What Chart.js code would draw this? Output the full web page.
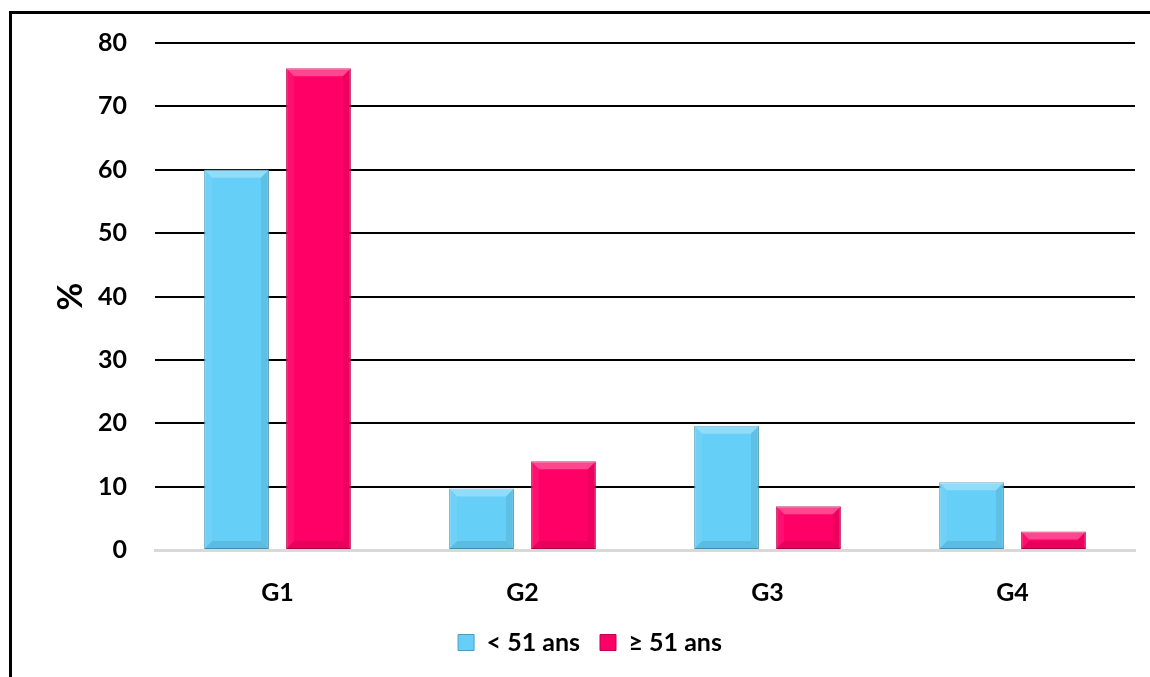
<!DOCTYPE html>
<html>
<head>
<meta charset="utf-8">
<script src="https://cdn.jsdelivr.net/npm/chart.js@4/dist/chart.umd.min.js"></script>
<style>
  html, body { margin: 0; padding: 0; background: #fff; overflow: hidden; }
  #frame { position: absolute; left: 9px; top: 11px; width: 1160px; height: 700px; border: 3px solid #000; box-sizing: border-box; }
  #wrap { position: absolute; left: 0; top: 0; width: 1150px; height: 677px; }
</style>
</head>
<body>
<div id="frame"></div>
<div id="wrap"><canvas id="c" width="1150" height="677"></canvas></div>
<script>
const categories = ["G1", "G2", "G3", "G4"];
const seriesNames = ["< 51 ans", "\u2265 51 ans"];
const under51 = [60, 9.7, 19.6, 10.7];
const over51 = [76, 14, 6.9, 2.9];
const yTicks = [0, 10, 20, 30, 40, 50, 60, 70, 80];

const FONT = "Lato, 'Open Sans', sans-serif";

const bevelPlugin = {
  id: 'bevel',
  afterDatasetsDraw(chart) {
    const ctx = chart.ctx;
    chart.data.datasets.forEach((ds, i) => {
      const meta = chart.getDatasetMeta(i);
      meta.data.forEach(bar => {
        const p = bar.getProps(['x', 'y', 'base', 'width'], true);
        const l = p.x - p.width / 2, r = p.x + p.width / 2;
        const t = Math.min(p.y, p.base), b = Math.max(p.y, p.base);
        const h = b - t;
        const d = Math.min(8, h / 2, p.width / 2);
        ctx.save();
        ctx.fillStyle = 'rgba(255,255,255,0.28)';
        ctx.beginPath(); ctx.moveTo(l, t); ctx.lineTo(r, t); ctx.lineTo(r - d, t + d); ctx.lineTo(l + d, t + d); ctx.closePath(); ctx.fill();
        ctx.fillStyle = 'rgba(255,255,255,0.06)';
        ctx.beginPath(); ctx.moveTo(l, t); ctx.lineTo(l + d, t + d); ctx.lineTo(l + d, b - d); ctx.lineTo(l, b); ctx.closePath(); ctx.fill();
        ctx.fillStyle = 'rgba(0,0,0,0.07)';
        ctx.beginPath(); ctx.moveTo(r, t); ctx.lineTo(r - d, t + d); ctx.lineTo(r - d, b - d); ctx.lineTo(r, b); ctx.closePath(); ctx.fill();
        ctx.fillStyle = 'rgba(0,0,0,0.09)';
        ctx.beginPath(); ctx.moveTo(l, b); ctx.lineTo(r, b); ctx.lineTo(r - d, b - d); ctx.lineTo(l + d, b - d); ctx.closePath(); ctx.fill();
        ctx.restore();
      });
    });
  }
};

new Chart(document.getElementById('c'), {
  type: 'bar',
  data: {
    labels: categories,
    datasets: [
      { label: seriesNames[0], data: under51, backgroundColor: '#66CFF7', borderColor: '#4A9DC2', borderWidth: 1, borderSkipped: false },
      { label: seriesNames[1], data: over51, backgroundColor: '#FF0066', borderColor: '#C2004E', borderWidth: 1, borderSkipped: false }
    ]
  },
  plugins: [bevelPlugin],
  options: {
    responsive: false,
    animation: false,
    categoryPercentage: 0.669,
    barPercentage: 0.79,
    layout: { padding: { left: 45, right: 15, top: 42, bottom: 12 } },
    plugins: {
      legend: {
        position: 'bottom',
        labels: { font: { family: FONT, size: 25, weight: 'bold' }, color: '#000', boxWidth: 16, boxHeight: 16, padding: 20 }
      },
      tooltip: { enabled: false }
    },
    scales: {
      x: {
        grid: { display: false },
        border: { display: true, color: '#d9d9d9', width: 3 },
        ticks: { font: { family: FONT, size: 25, weight: 'bold' }, color: '#000', padding: 20 },
        afterFit(s) { s.height = 60; }
      },
      y: {
        min: 0, max: 80,
        afterBuildTicks(s) { s.ticks = yTicks.map(v => ({ value: v })); },
        grid: { color: c => (c.tick && c.tick.value === 0) ? 'rgba(0,0,0,0)' : '#000', lineWidth: 2, drawTicks: false },
        border: { display: false },
        ticks: { font: { family: FONT, size: 25, weight: 'bold' }, color: '#000', padding: 28 },
        title: { display: true, text: '%', font: { family: FONT, size: 34, weight: 'bold' }, color: '#000', padding: { top: 6, bottom: 0 } },
        afterFit(s) { s.width = 110; }
      }
    }
  }
});
</script>
</body>
</html>
